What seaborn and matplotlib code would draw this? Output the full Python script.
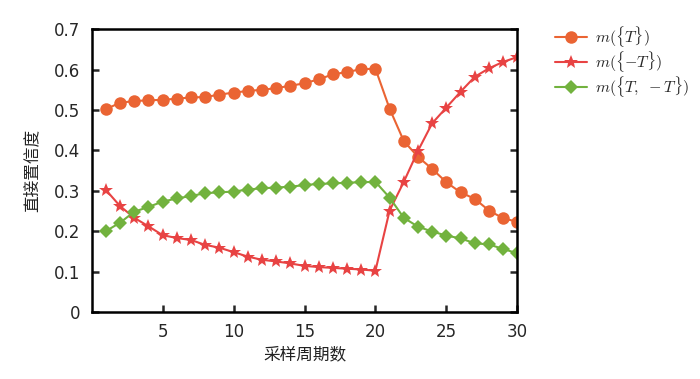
import pandas as pd
import matplotlib
matplotlib.use("Agg")
import matplotlib.pyplot as plt
import seaborn as sns

# 数据
periods = list(range(1, 31))
m_T = [0.502, 0.518, 0.522, 0.524, 0.525, 0.528, 0.531, 0.532, 0.538, 0.543,
       0.547, 0.550, 0.554, 0.560, 0.566, 0.576, 0.588, 0.594, 0.601, 0.602,
       0.503, 0.423, 0.384, 0.354, 0.321, 0.296, 0.280, 0.251, 0.232, 0.223]
m_notT = [0.302, 0.262, 0.233, 0.212, 0.190, 0.183, 0.178, 0.166, 0.159, 0.148,
          0.137, 0.129, 0.125, 0.120, 0.114, 0.111, 0.109, 0.107, 0.105, 0.102,
          0.251, 0.322, 0.399, 0.467, 0.506, 0.545, 0.582, 0.603, 0.619, 0.631]
m_both = [0.200, 0.221, 0.248, 0.260, 0.273, 0.281, 0.287, 0.294, 0.296, 0.298,
          0.303, 0.306, 0.308, 0.310, 0.314, 0.317, 0.318, 0.320, 0.321, 0.322,
          0.283, 0.233, 0.211, 0.199, 0.189, 0.182, 0.170, 0.167, 0.156, 0.145]
series_names = [r"$m(\{T\})$", r"$m(\{-T\})$", r"$m(\{T,\ -T\})$"]

df = pd.concat([
    pd.DataFrame({"周期": periods, "值": vals, "序列": name})
    for name, vals in zip(series_names, [m_T, m_notT, m_both])
])

sns.set_theme(style="ticks")
plt.rcParams["font.family"] = ["DejaVu Sans", "Noto Sans CJK SC"]
plt.rcParams["mathtext.fontset"] = "cm"

fig = plt.figure(figsize=(7, 3.79), dpi=100)
ax = fig.add_axes([0.131, 0.177, 0.608, 0.746])

colors = {series_names[0]: "#EA6433", series_names[1]: "#E84343", series_names[2]: "#72B23E"}
markers = {series_names[0]: "o", series_names[1]: "*", series_names[2]: "D"}
sizes = {series_names[0]: 9, series_names[1]: 10.5, series_names[2]: 7}

for name in series_names:
    sns.lineplot(data=df[df["序列"] == name], x="周期", y="值", ax=ax,
                 color=colors[name], marker=markers[name], markersize=sizes[name],
                 markeredgewidth=0, linewidth=1.5, label=name)

ax.set_xlim(0, 30)
ax.set_ylim(0, 0.7)
ax.set_xticks([5, 10, 15, 20, 25, 30])
ax.set_yticks([0, 0.1, 0.2, 0.3, 0.4, 0.5, 0.6, 0.7])
ax.set_yticklabels(["0", "0.1", "0.2", "0.3", "0.4", "0.5", "0.6", "0.7"])
ax.tick_params(direction="in", length=5, width=1.8, labelsize=12,
               right=True, top=False, pad=8)
for s in ax.spines.values():
    s.set_linewidth(1.8)
    s.set_color("black")

ax.set_xlabel("采样周期数", fontsize=12, family=["Noto Sans CJK SC"], color="#222222")
ax.set_ylabel("直接置信度", fontsize=12, family=["Noto Sans CJK SC"], color="#222222",
              labelpad=10)

ax.legend(loc="upper left", bbox_to_anchor=(1.055, 1.07), frameon=False,
          fontsize=11.5, handlelength=2.0, handletextpad=0.5, labelspacing=0.0)

plt.savefig("out.png", dpi=100)
